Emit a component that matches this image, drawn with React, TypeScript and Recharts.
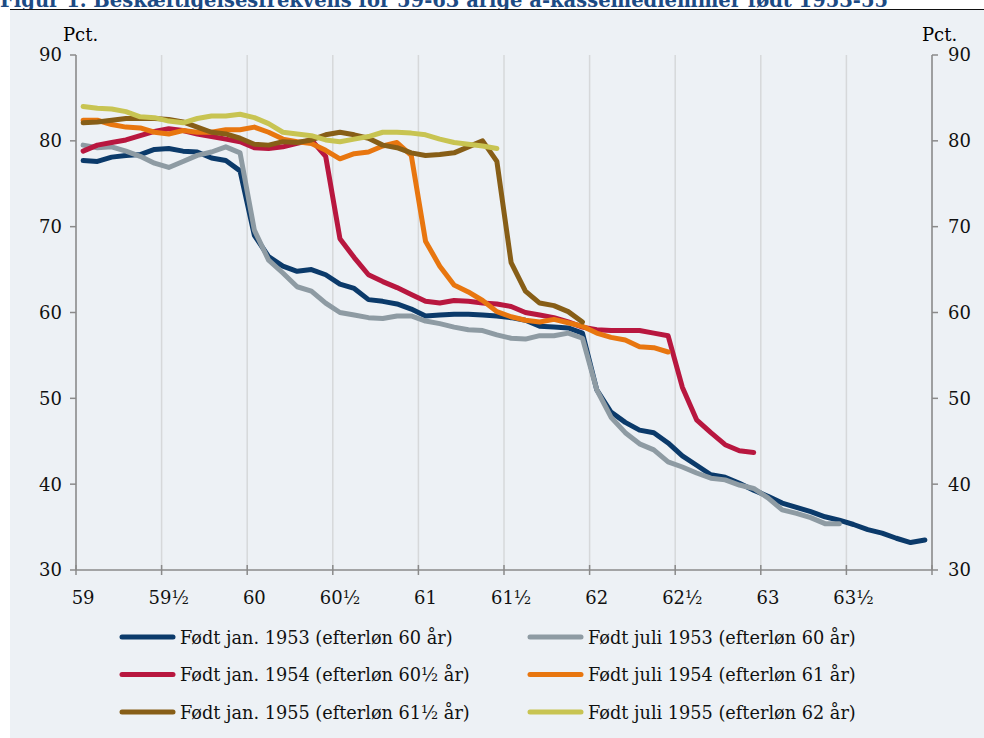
import { CartesianGrid, Line, LineChart, XAxis, YAxis } from "recharts";

// Beskæftigelsesfrekvens, pct. Monthly points from age 59 (first month) onwards.
const bornJan1953 = [
  77.7, 77.6, 78.1, 78.3, 78.4, 79.0, 79.1, 78.8, 78.7, 78.0, 77.7, 76.5,
  69.0, 66.5, 65.4, 64.8, 65.0, 64.4, 63.3, 62.8, 61.5, 61.3, 61.0, 60.4,
  59.6, 59.7, 59.8, 59.8, 59.7, 59.6, 59.4, 59.1, 58.4, 58.3, 58.2, 57.6,
  51.0, 48.4, 47.2, 46.3, 46.0, 44.8, 43.3, 42.2, 41.1, 40.8, 40.1, 39.3,
  38.6, 37.8, 37.3, 36.8, 36.2, 35.8, 35.3, 34.7, 34.3, 33.7, 33.2, 33.5,
];
const bornJul1953 = [
  79.5, 79.2, 79.3, 78.8, 78.2, 77.4, 76.9, 77.6, 78.3, 78.7, 79.3, 78.6,
  69.6, 66.1, 64.6, 63.0, 62.5, 61.1, 60.0, 59.7, 59.4, 59.3, 59.6, 59.6,
  59.0, 58.7, 58.3, 58.0, 57.9, 57.4, 57.0, 56.9, 57.3, 57.3, 57.6, 57.0,
  51.0, 47.8, 46.0, 44.7, 44.0, 42.6, 42.0, 41.3, 40.7, 40.5, 39.9, 39.5,
  38.4, 37.0, 36.6, 36.1, 35.4, 35.4,
];
const bornJan1954 = [
  78.8, 79.5, 79.8, 80.1, 80.6, 81.1, 81.4, 81.2, 80.8, 80.5, 80.2, 79.9,
  79.2, 79.1, 79.3, 79.7, 80.1, 78.2, 68.6, 66.4, 64.4, 63.6, 62.9, 62.1,
  61.3, 61.1, 61.4, 61.3, 61.1, 61.0, 60.7, 60.0, 59.7, 59.4, 58.9, 58.3,
  58.0, 57.9, 57.9, 57.9, 57.6, 57.3, 51.3, 47.5, 46.0, 44.6, 43.9, 43.7,
];
const bornJul1954 = [
  82.4, 82.4, 81.9, 81.6, 81.5, 81.0, 80.8, 81.2, 81.0, 81.0, 81.3, 81.3,
  81.6, 81.0, 80.2, 79.9, 79.7, 78.9, 77.9, 78.5, 78.7, 79.4, 79.8, 78.3,
  68.3, 65.4, 63.2, 62.4, 61.4, 60.1, 59.5, 59.1, 58.9, 59.2, 58.8, 58.4,
  57.6, 57.1, 56.8, 56.0, 55.9, 55.4,
];
const bornJan1955 = [
  82.1, 82.2, 82.4, 82.6, 82.6, 82.6, 82.5, 82.2, 81.6, 81.0, 80.8, 80.3,
  79.6, 79.5, 79.9, 79.8, 80.1, 80.7, 81.0, 80.7, 80.3, 79.5, 79.2, 78.6,
  78.3, 78.4, 78.6, 79.3, 80.0, 77.6, 65.8, 62.5, 61.1, 60.8, 60.1, 58.9,
];
const bornJul1955 = [
  84.0, 83.8, 83.7, 83.4, 82.8, 82.7, 82.3, 82.1, 82.6, 82.9, 82.9, 83.1,
  82.7, 82.0, 81.0, 80.8, 80.6, 80.1, 79.9, 80.2, 80.5, 81.0, 81.0, 80.9,
  80.7, 80.2, 79.8, 79.6, 79.4, 79.1,
];

const SERIES_NAMES = [
  "Født jan. 1953 (efterløn 60 år)",
  "Født juli 1953 (efterløn 60 år)",
  "Født jan. 1954 (efterløn 60½ år)",
  "Født juli 1954 (efterløn 61 år)",
  "Født jan. 1955 (efterløn 61½ år)",
  "Født juli 1955 (efterløn 62 år)",
];
const SERIES_VALUES = [
  bornJan1953,
  bornJul1953,
  bornJan1954,
  bornJul1954,
  bornJan1955,
  bornJul1955,
];
const X_TICK_LABELS = ["59", "59½", "60", "60½", "61", "61½", "62", "62½", "63", "63½", ""];
const Y_TICKS = [30, 40, 50, 60, 70, 80, 90];
const MONTHS_PER_TICK = 6;
const TOTAL_MONTHS = 60;

const TITLE =
  "Figur 1. Beskæftigelsesfrekvens for 59-63 årige a-kassemedlemmer født 1953-55";

const COLORS = ["#0B3A6A", "#8E9BA3", "#B8173F", "#E8760F", "#875E17", "#C8C452"];
const FONT = "'DejaVu Serif', serif";
const AXIS_COLOR = "#8A8A8A";

const chartData = Array.from({ length: TOTAL_MONTHS }, (_, i) => {
  const row: Record<string, number | undefined> = { x: i + 0.5 };
  SERIES_VALUES.forEach((values, k) => {
    row[`s${k}`] = values[i];
  });
  return row;
});

const xTicks = X_TICK_LABELS.map((_, k) => k * MONTHS_PER_TICK);

// plot area is 856 px wide -> half a month
const HALF_MONTH_PX = 856 / TOTAL_MONTHS / 2;

function XTick(props: any) {
  const { x, y, payload } = props;
  const label = X_TICK_LABELS[Math.round(payload.value / MONTHS_PER_TICK)];
  return (
    <g>
      <line x1={x} x2={x} y1={y - 5} y2={y + 5} stroke={AXIS_COLOR} strokeWidth={1.5} />
      <text
        x={x + HALF_MONTH_PX}
        y={y + 34}
        textAnchor="middle"
        fontFamily={FONT}
        fontSize={18}
        fill="#111"
      >
        {label}
      </text>
    </g>
  );
}

export default function App() {
  return (
    <div
      style={{
        position: "absolute",
        left: 0,
        top: 0,
        width: 984,
        height: 738,
        background: "#fff",
        overflow: "hidden",
        fontFamily: FONT,
      }}
    >
      <svg width={984} height={12} style={{ position: "absolute", left: 0, top: 0 }}>
        <text x={0} y={7} fontFamily={FONT} fontWeight="bold" fontSize={19.5} fill="#1D4B84">
          {TITLE}
        </text>
      </svg>
      <div
        style={{
          position: "absolute",
          left: 10,
          top: 9,
          width: 974,
          height: 729,
          background: "#EDF1F5",
          borderTop: "1.5px solid #111",
        }}
      />

      <div style={{ position: "absolute", left: 63, top: 24, fontSize: 18, lineHeight: "22px" }}>
        Pct.
      </div>
      <div style={{ position: "absolute", left: 922, top: 24, fontSize: 18, lineHeight: "22px" }}>
        Pct.
      </div>

      <div style={{ position: "absolute", left: 0, top: 0 }}>
        <LineChart
          width={984}
          height={620}
          data={chartData}
          margin={{ top: 55, right: 0, bottom: 10, left: 0 }}
        >
          <CartesianGrid horizontal={false} stroke="#D6D8DA" strokeWidth={1.5} />
          <XAxis
            dataKey="x"
            type="number"
            domain={[0, TOTAL_MONTHS]}
            ticks={xTicks}
            interval={0}
            height={40}
            tickLine={false}
            tickSize={0}
            tickMargin={0}
            axisLine={{ stroke: AXIS_COLOR, strokeWidth: 1.5 }}
            tick={<XTick />}
          />
          <YAxis
            yAxisId="left"
            domain={[30, 90]}
            ticks={Y_TICKS}
            interval={0}
            width={76}
            tickSize={6}
            tickMargin={8}
            axisLine={{ stroke: AXIS_COLOR, strokeWidth: 1.5 }}
            tickLine={{ stroke: AXIS_COLOR, strokeWidth: 1.5 }}
            tick={{ fontFamily: FONT, fontSize: 18, fill: "#111" }}
          />
          <YAxis
            yAxisId="right"
            orientation="right"
            domain={[30, 90]}
            ticks={Y_TICKS}
            interval={0}
            width={52}
            tickSize={6}
            tickMargin={10}
            axisLine={{ stroke: AXIS_COLOR, strokeWidth: 1.5 }}
            tickLine={{ stroke: AXIS_COLOR, strokeWidth: 1.5 }}
            tick={{ fontFamily: FONT, fontSize: 18, fill: "#111" }}
          />
          {/* invisible copy so the right-hand axis gets its ticks */}
          <Line
            yAxisId="right"
            dataKey="s0"
            stroke="none"
            dot={false}
            activeDot={false}
            legendType="none"
            isAnimationActive={false}
          />
          {SERIES_NAMES.map((name, k) => (
            <Line
              key={name}
              yAxisId="left"
              dataKey={`s${k}`}
              name={name}
              stroke={COLORS[k]}
              strokeWidth={5}
              strokeLinecap="round"
              strokeLinejoin="round"
              dot={false}
              type="linear"
              isAnimationActive={false}
            />
          ))}
        </LineChart>
      </div>

      <svg width={984} height={738} style={{ position: "absolute", left: 0, top: 0, pointerEvents: "none" }}>
        {SERIES_NAMES.map((name, k) => {
          const col = k % 2;
          const row = Math.floor(k / 2);
          const cy = 637 + row * 37.5;
          const x0 = col === 0 ? 122 : 530;
          return (
            <g key={name}>
              <line
                x1={x0}
                x2={x0 + 51}
                y1={cy}
                y2={cy}
                stroke={COLORS[k]}
                strokeWidth={5}
                strokeLinecap="round"
              />
              <text x={x0 + 58} y={cy + 6.5} fontFamily={FONT} fontSize={17.7} fill="#111">
                {name}
              </text>
            </g>
          );
        })}
      </svg>
    </div>
  );
}
